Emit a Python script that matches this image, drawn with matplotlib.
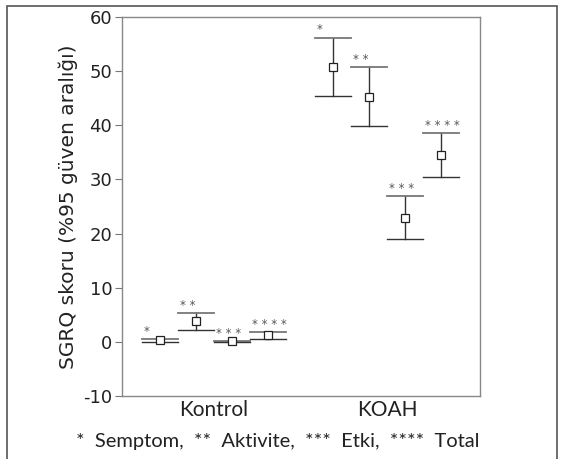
import numpy as np
import matplotlib.pyplot as plt
import matplotlib.patches as mpatches

groups = ['Kontrol', 'KOAH']
stars = ['*', '**', '***', '****']
means = [[0.3, 3.9, 0.1, 1.25],
         [50.8, 45.3, 22.9, 34.6]]
lower = [[-0.1, 2.1, 0.0, 0.6],
         [45.4, 39.8, 19.0, 30.4]]
upper = [[0.5, 5.4, 0.2, 1.85],
         [56.2, 50.7, 27.0, 38.6]]
yticks = [-10, 0, 10, 20, 30, 40, 50, 60]
caption = '*  Semptom,  **  Aktivite,  ***  Etki,  ****  Total'

fig = plt.figure(figsize=(5.66, 4.59), dpi=100)
# outer frame (bottom runs off the picture)
fig.patches.append(mpatches.Rectangle((7/566, -0.1), 550/566, 1.1 - 6/459,
                                      transform=fig.transFigure, fill=False,
                                      ec='#555555', lw=1.2))
ax = fig.add_axes([122/566, 1 - 396/459, 358/566, 379/459])

offsets = [-0.312, -0.104, 0.104, 0.312]
half = 0.104
for g in range(2):
    for k in range(4):
        x = g + 1 + offsets[k]
        lo, hi, m = lower[g][k], upper[g][k], means[g][k]
        ax.plot([x, x], [lo, hi], color='#333333', lw=1.0)
        ax.plot([x - half, x + half], [hi, hi], color='#777777', lw=1.3)
        ax.plot([x - half, x + half], [lo, lo], color='#333333', lw=1.0)
        ax.plot(x, m, 's', ms=5.5, mfc='white', mec='#222222', mew=0.9)
        ax.text(x - half + 0.01, hi + 0.2, ' '.join(stars[k]), ha='left',
                va='bottom', fontsize=8.5, color='#555555')

ax.set_xlim(0.468, 2.538)
ax.set_ylim(-10, 60)
ax.set_yticks(yticks)
ax.set_yticklabels([str(t) for t in yticks], fontsize=13, color='#222222')
ax.set_xticks([])
ax.tick_params(axis='y', direction='out', length=5, color='#777777', pad=2)
for s in ax.spines.values():
    s.set_color('#888888')
    s.set_linewidth(1.0)
ax.set_ylabel('SGRQ skoru (%95 güven aralığı)', fontsize=14.5, color='#222222',
              labelpad=4)

for g in range(2):
    ax.text(g + 1, -10.8, groups[g], ha='center', va='top', fontsize=15,
            family='Lato', color='#222222')
fig.text(278/566, 1 - 441/459, caption, ha='center', va='center', fontsize=14.5,
         family='Lato', color='#222222')

plt.savefig('out.png', dpi=100)
plt.close()
